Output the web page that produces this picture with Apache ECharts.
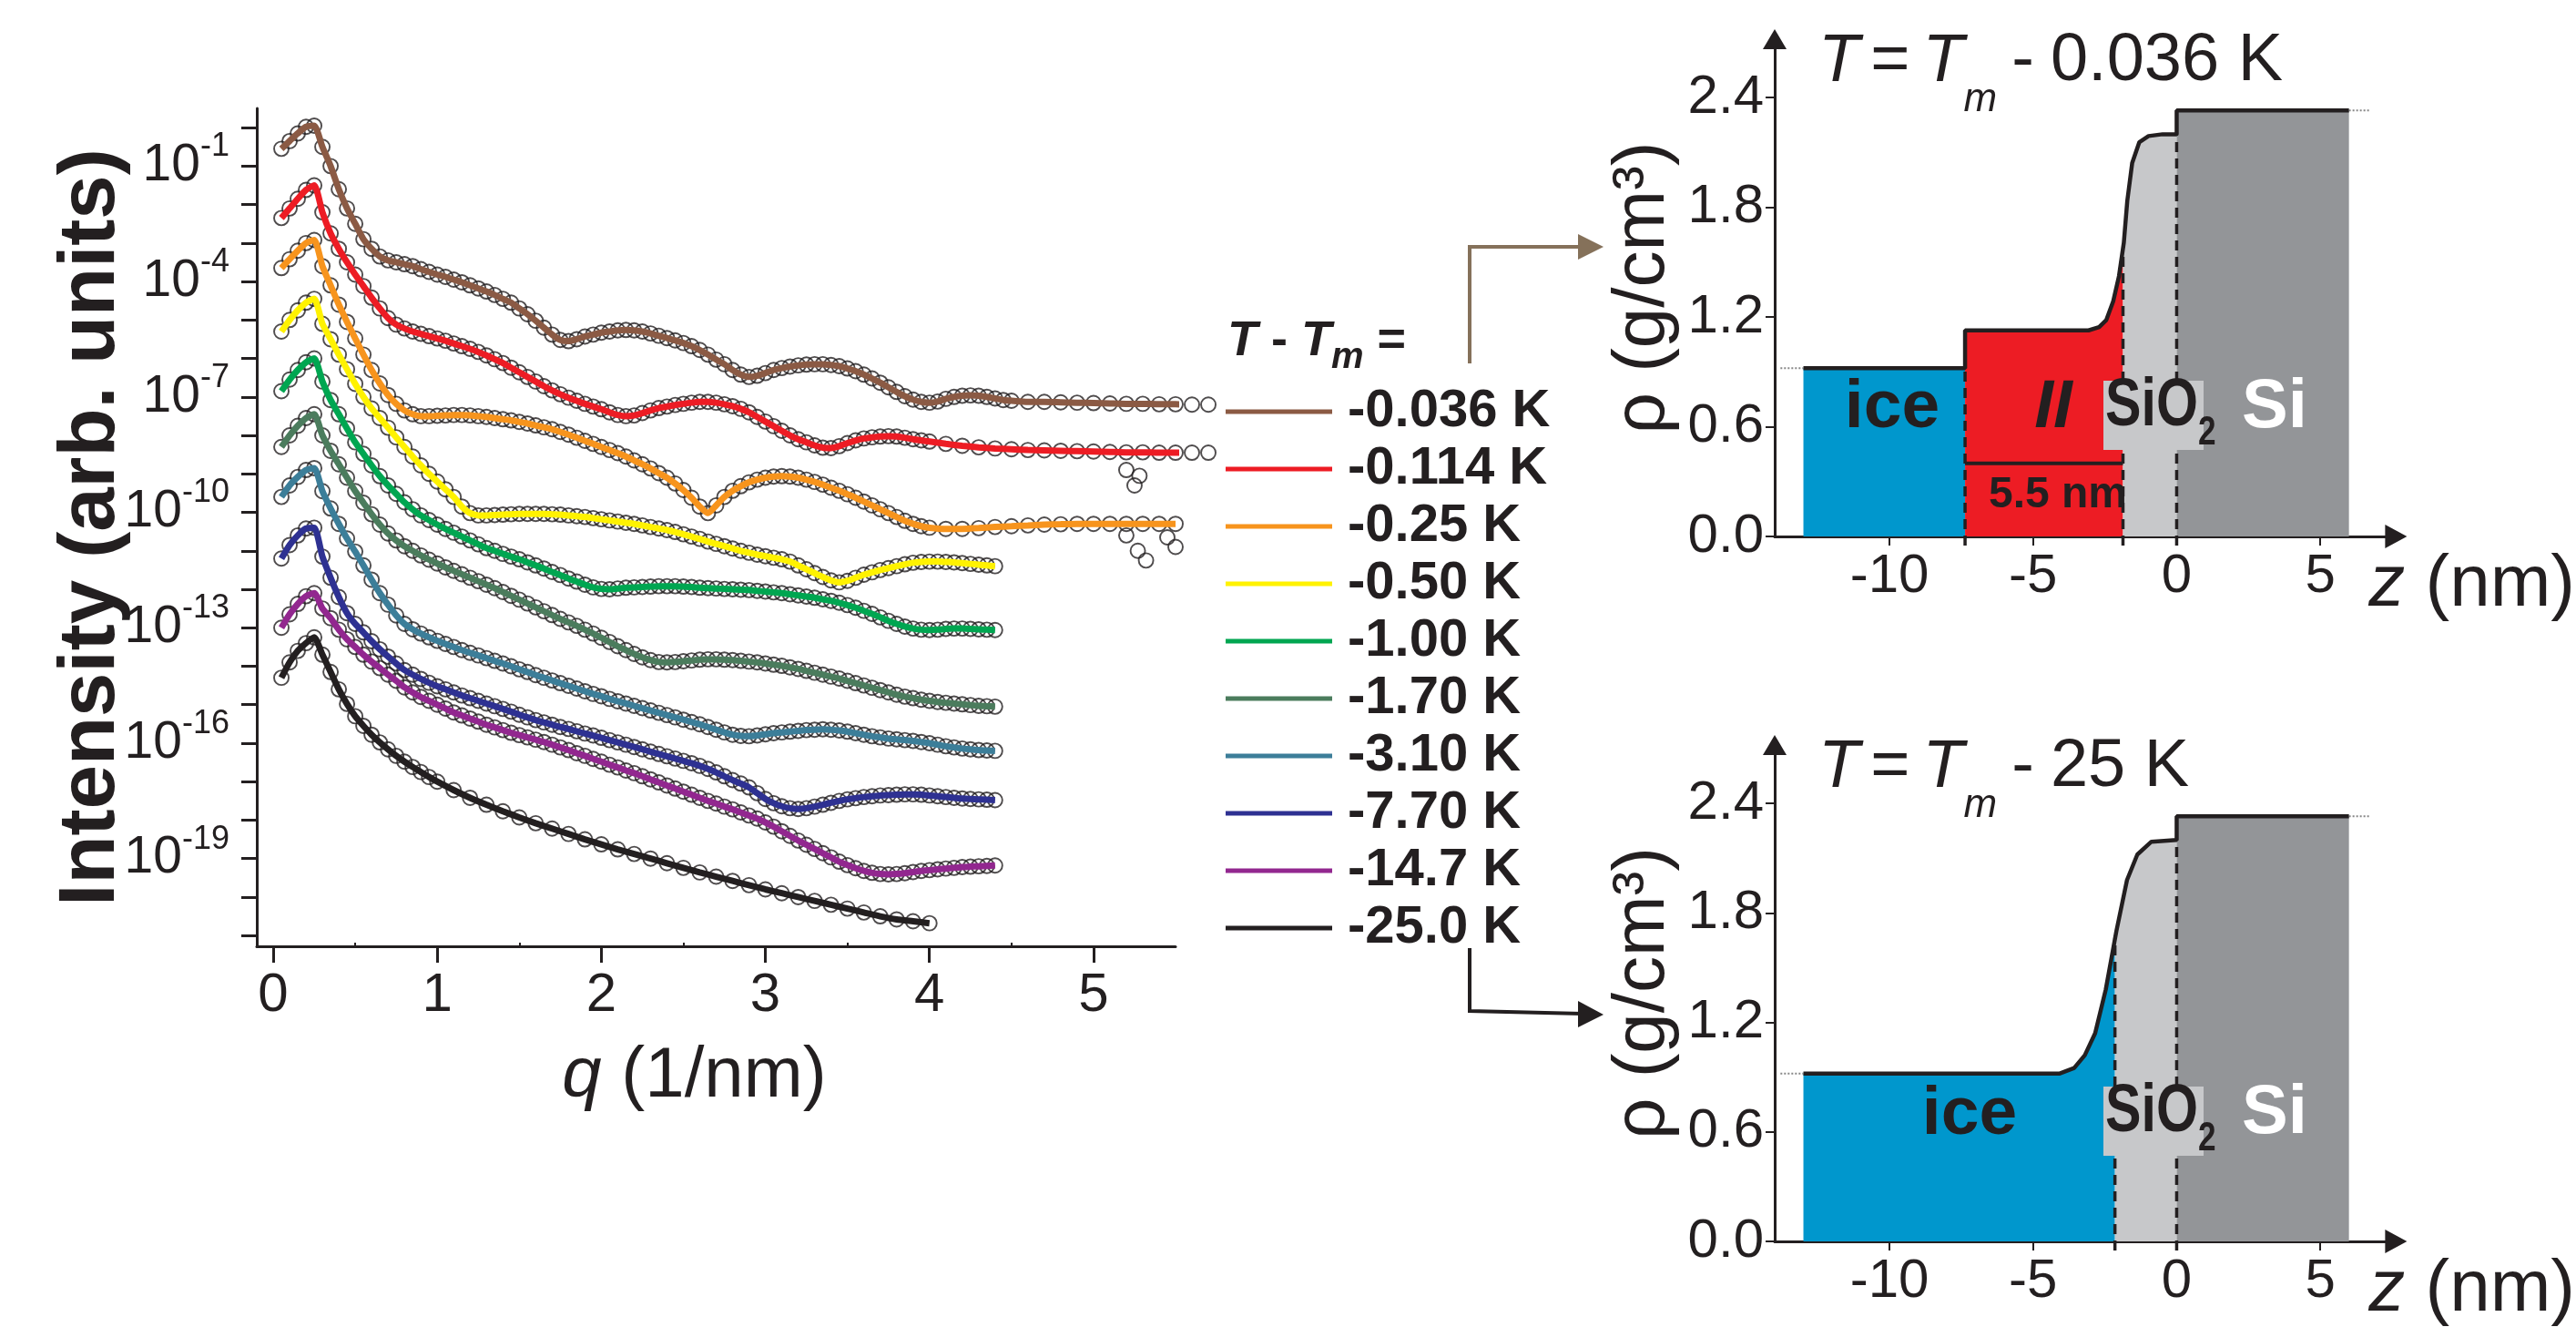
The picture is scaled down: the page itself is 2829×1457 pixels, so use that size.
<!DOCTYPE html>
<html><head><meta charset="utf-8">
<script src="https://cdn.jsdelivr.net/npm/echarts@6/dist/echarts.min.js"></script>
<style>html,body{margin:0;padding:0;background:#fff}#c{width:2829px;height:1457px}</style>
</head><body><div id="c"></div>
<script>
// ---------- data : log10(intensity) vs q (1/nm) ----------
const curveNames = ['-0.036 K','-0.114 K','-0.25 K','-0.50 K','-1.00 K','-1.70 K','-3.10 K','-7.70 K','-14.7 K','-25.0 K'];
const curveColors = ['#8b5a44','#ed1c24','#f7941d','#fff200','#00a651','#4b7c5d','#3c7e99','#2e3192','#92278f','#231f20'];
const d036 = [[0.05,-0.55],[0.1,-0.35],[0.15,-0.15],[0.2,0.02],[0.25,0.05],[0.3,-0.5],[0.35,-1.0],[0.4,-1.6],[0.45,-2.1],[0.5,-2.5],[0.55,-2.9],[0.6,-3.15],[0.65,-3.35],[0.7,-3.45],[0.75,-3.5],[0.8,-3.55],[0.85,-3.6],[0.9,-3.68],[0.95,-3.75],[1.0,-3.82],[1.05,-3.88],[1.1,-3.95],[1.15,-4.02],[1.2,-4.1],[1.25,-4.18],[1.3,-4.26],[1.35,-4.35],[1.4,-4.45],[1.45,-4.55],[1.5,-4.7],[1.55,-4.85],[1.6,-5.02],[1.65,-5.2],[1.7,-5.38],[1.75,-5.52],[1.8,-5.55],[1.85,-5.5],[1.9,-5.43],[1.95,-5.38],[2.0,-5.33],[2.05,-5.3],[2.1,-5.27],[2.15,-5.26],[2.2,-5.27],[2.25,-5.3],[2.3,-5.35],[2.35,-5.41],[2.4,-5.47],[2.45,-5.53],[2.5,-5.6],[2.55,-5.68],[2.6,-5.78],[2.65,-5.9],[2.7,-6.03],[2.75,-6.15],[2.8,-6.3],[2.85,-6.42],[2.9,-6.48],[2.95,-6.45],[3.0,-6.38],[3.05,-6.3],[3.1,-6.25],[3.15,-6.21],[3.2,-6.18],[3.25,-6.16],[3.3,-6.15],[3.35,-6.15],[3.4,-6.17],[3.45,-6.2],[3.5,-6.26],[3.55,-6.33],[3.6,-6.42],[3.65,-6.52],[3.7,-6.63],[3.75,-6.75],[3.8,-6.87],[3.85,-6.98],[3.9,-7.07],[3.95,-7.13],[4.0,-7.15],[4.05,-7.12],[4.1,-7.05],[4.15,-7.0],[4.2,-6.97],[4.25,-6.96],[4.3,-6.97],[4.35,-7.0],[4.4,-7.04],[4.45,-7.08],[4.5,-7.1],[4.6,-7.13],[4.7,-7.13],[4.8,-7.14],[4.9,-7.15],[5.0,-7.16],[5.1,-7.17],[5.2,-7.18],[5.3,-7.18],[5.4,-7.19],[5.5,-7.19],[5.6,-7.2],[5.7,-7.2]];
const d114 = [[0.05,-2.35],[0.1,-2.1],[0.15,-1.85],[0.2,-1.62],[0.25,-1.5],[0.3,-2.2],[0.35,-2.75],[0.4,-3.15],[0.45,-3.5],[0.5,-3.82],[0.55,-4.12],[0.6,-4.42],[0.65,-4.7],[0.7,-4.95],[0.75,-5.12],[0.8,-5.22],[0.85,-5.3],[0.9,-5.36],[0.95,-5.42],[1.0,-5.48],[1.05,-5.54],[1.1,-5.61],[1.15,-5.68],[1.2,-5.75],[1.25,-5.83],[1.3,-5.92],[1.35,-6.02],[1.4,-6.12],[1.45,-6.24],[1.5,-6.36],[1.55,-6.48],[1.6,-6.6],[1.65,-6.72],[1.7,-6.83],[1.75,-6.93],[1.8,-7.02],[1.85,-7.1],[1.9,-7.18],[1.95,-7.25],[2.0,-7.32],[2.05,-7.4],[2.1,-7.47],[2.15,-7.5],[2.2,-7.48],[2.25,-7.42],[2.3,-7.35],[2.35,-7.29],[2.4,-7.25],[2.45,-7.21],[2.5,-7.18],[2.55,-7.15],[2.6,-7.13],[2.65,-7.13],[2.7,-7.15],[2.75,-7.19],[2.8,-7.24],[2.85,-7.31],[2.9,-7.4],[2.95,-7.52],[3.0,-7.64],[3.05,-7.76],[3.1,-7.88],[3.15,-8.0],[3.2,-8.1],[3.25,-8.18],[3.3,-8.26],[3.35,-8.32],[3.4,-8.33],[3.45,-8.28],[3.5,-8.2],[3.55,-8.13],[3.6,-8.08],[3.65,-8.05],[3.7,-8.03],[3.75,-8.02],[3.8,-8.03],[3.85,-8.06],[3.9,-8.1],[3.95,-8.13],[4.0,-8.16],[4.1,-8.22],[4.2,-8.27],[4.3,-8.31],[4.4,-8.34],[4.5,-8.36],[4.6,-8.38],[4.7,-8.39],[4.8,-8.4],[4.9,-8.41],[5.0,-8.42],[5.1,-8.43],[5.2,-8.44],[5.3,-8.44],[5.4,-8.45],[5.5,-8.45],[5.6,-8.45],[5.7,-8.45]];
const d25 = [[0.05,-3.65],[0.1,-3.42],[0.15,-3.2],[0.2,-3.0],[0.25,-2.92],[0.3,-3.6],[0.35,-4.1],[0.4,-4.6],[0.45,-5.05],[0.5,-5.48],[0.55,-5.9],[0.6,-6.3],[0.65,-6.65],[0.7,-6.95],[0.75,-7.18],[0.8,-7.35],[0.85,-7.45],[0.9,-7.5],[0.95,-7.5],[1.0,-7.49],[1.05,-7.48],[1.1,-7.47],[1.15,-7.47],[1.2,-7.48],[1.25,-7.5],[1.3,-7.52],[1.35,-7.55],[1.4,-7.58],[1.45,-7.61],[1.5,-7.65],[1.55,-7.69],[1.6,-7.74],[1.65,-7.79],[1.7,-7.84],[1.75,-7.91],[1.8,-7.98],[1.85,-8.06],[1.9,-8.14],[1.95,-8.22],[2.0,-8.3],[2.05,-8.38],[2.1,-8.46],[2.15,-8.55],[2.2,-8.65],[2.25,-8.75],[2.3,-8.86],[2.35,-8.98],[2.4,-9.1],[2.45,-9.25],[2.5,-9.42],[2.55,-9.62],[2.6,-9.85],[2.65,-10.02],[2.7,-9.82],[2.75,-9.6],[2.8,-9.44],[2.85,-9.32],[2.9,-9.22],[2.95,-9.15],[3.0,-9.1],[3.05,-9.07],[3.1,-9.06],[3.15,-9.07],[3.2,-9.1],[3.25,-9.15],[3.3,-9.21],[3.35,-9.28],[3.4,-9.36],[3.45,-9.44],[3.5,-9.53],[3.55,-9.62],[3.6,-9.72],[3.65,-9.82],[3.7,-9.92],[3.75,-10.02],[3.8,-10.12],[3.85,-10.22],[3.9,-10.3],[3.95,-10.36],[4.0,-10.4],[4.1,-10.43],[4.2,-10.43],[4.3,-10.41],[4.4,-10.38],[4.5,-10.36],[4.6,-10.34],[4.7,-10.32],[4.8,-10.31],[4.9,-10.3],[5.0,-10.3],[5.1,-10.3],[5.2,-10.3],[5.3,-10.3],[5.4,-10.3],[5.5,-10.3]];
const d50 = [[0.05,-5.3],[0.1,-5.0],[0.15,-4.75],[0.2,-4.55],[0.25,-4.45],[0.3,-5.1],[0.35,-5.5],[0.4,-5.9],[0.45,-6.28],[0.5,-6.66],[0.55,-7.0],[0.6,-7.3],[0.65,-7.55],[0.7,-7.8],[0.75,-8.05],[0.8,-8.3],[0.85,-8.55],[0.9,-8.78],[0.95,-9.0],[1.0,-9.2],[1.05,-9.4],[1.1,-9.6],[1.15,-9.85],[1.2,-10.02],[1.25,-10.08],[1.3,-10.08],[1.35,-10.07],[1.4,-10.06],[1.45,-10.05],[1.5,-10.04],[1.55,-10.04],[1.6,-10.04],[1.65,-10.04],[1.7,-10.05],[1.75,-10.06],[1.8,-10.08],[1.85,-10.1],[1.9,-10.12],[1.95,-10.15],[2.0,-10.18],[2.05,-10.21],[2.1,-10.24],[2.15,-10.27],[2.2,-10.3],[2.25,-10.34],[2.3,-10.38],[2.35,-10.42],[2.4,-10.46],[2.45,-10.51],[2.5,-10.57],[2.55,-10.63],[2.6,-10.69],[2.65,-10.76],[2.7,-10.82],[2.75,-10.88],[2.8,-10.94],[2.85,-11.0],[2.9,-11.05],[2.95,-11.1],[3.0,-11.14],[3.05,-11.18],[3.1,-11.22],[3.15,-11.28],[3.2,-11.38],[3.25,-11.48],[3.3,-11.58],[3.35,-11.68],[3.4,-11.77],[3.45,-11.82],[3.5,-11.78],[3.55,-11.7],[3.6,-11.62],[3.65,-11.56],[3.7,-11.5],[3.75,-11.45],[3.8,-11.4],[3.85,-11.35],[3.9,-11.31],[3.95,-11.29],[4.0,-11.28],[4.05,-11.28],[4.1,-11.29],[4.15,-11.3],[4.2,-11.32],[4.25,-11.34],[4.3,-11.36],[4.35,-11.38],[4.4,-11.4]];
const d100 = [[0.05,-6.85],[0.1,-6.55],[0.15,-6.3],[0.2,-6.1],[0.25,-6.0],[0.3,-6.6],[0.35,-7.08],[0.4,-7.45],[0.45,-7.82],[0.5,-8.18],[0.55,-8.48],[0.6,-8.78],[0.65,-9.06],[0.7,-9.3],[0.75,-9.52],[0.8,-9.74],[0.85,-9.92],[0.9,-10.08],[0.95,-10.2],[1.0,-10.32],[1.05,-10.43],[1.1,-10.53],[1.15,-10.63],[1.2,-10.73],[1.25,-10.83],[1.3,-10.93],[1.35,-11.0],[1.4,-11.08],[1.45,-11.15],[1.5,-11.22],[1.55,-11.3],[1.6,-11.38],[1.65,-11.46],[1.7,-11.55],[1.75,-11.63],[1.8,-11.72],[1.85,-11.8],[1.9,-11.88],[1.95,-11.95],[2.0,-11.99],[2.05,-12.0],[2.1,-11.98],[2.15,-11.96],[2.2,-11.95],[2.25,-11.94],[2.3,-11.93],[2.35,-11.92],[2.4,-11.92],[2.45,-11.92],[2.5,-11.93],[2.55,-11.94],[2.6,-11.96],[2.65,-11.97],[2.7,-11.98],[2.75,-11.99],[2.8,-12.0],[2.85,-12.01],[2.9,-12.02],[2.95,-12.04],[3.0,-12.06],[3.05,-12.08],[3.1,-12.1],[3.15,-12.13],[3.2,-12.16],[3.25,-12.19],[3.3,-12.22],[3.35,-12.26],[3.4,-12.3],[3.45,-12.35],[3.5,-12.41],[3.55,-12.48],[3.6,-12.56],[3.65,-12.64],[3.7,-12.73],[3.75,-12.82],[3.8,-12.9],[3.85,-12.97],[3.9,-13.02],[3.95,-13.05],[4.0,-13.06],[4.05,-13.05],[4.1,-13.03],[4.15,-13.02],[4.2,-13.02],[4.25,-13.03],[4.3,-13.04],[4.35,-13.05],[4.4,-13.06]];
const d170 = [[0.05,-8.3],[0.1,-8.0],[0.15,-7.75],[0.2,-7.55],[0.25,-7.45],[0.3,-8.0],[0.35,-8.4],[0.4,-8.75],[0.45,-9.1],[0.5,-9.45],[0.55,-9.75],[0.6,-10.05],[0.65,-10.32],[0.7,-10.55],[0.75,-10.73],[0.8,-10.88],[0.85,-11.0],[0.9,-11.12],[0.95,-11.23],[1.0,-11.33],[1.05,-11.43],[1.1,-11.52],[1.15,-11.61],[1.2,-11.7],[1.25,-11.79],[1.3,-11.88],[1.35,-11.97],[1.4,-12.07],[1.45,-12.17],[1.5,-12.27],[1.55,-12.37],[1.6,-12.47],[1.65,-12.57],[1.7,-12.67],[1.75,-12.77],[1.8,-12.86],[1.85,-12.95],[1.9,-13.05],[1.95,-13.15],[2.0,-13.26],[2.05,-13.37],[2.1,-13.48],[2.15,-13.58],[2.2,-13.68],[2.25,-13.77],[2.3,-13.84],[2.35,-13.89],[2.4,-13.9],[2.45,-13.89],[2.5,-13.87],[2.55,-13.85],[2.6,-13.83],[2.65,-13.82],[2.7,-13.82],[2.75,-13.83],[2.8,-13.84],[2.85,-13.86],[2.9,-13.88],[2.95,-13.9],[3.0,-13.93],[3.05,-13.96],[3.1,-13.99],[3.15,-14.03],[3.2,-14.07],[3.25,-14.12],[3.3,-14.17],[3.35,-14.22],[3.4,-14.27],[3.45,-14.32],[3.5,-14.38],[3.55,-14.44],[3.6,-14.5],[3.65,-14.56],[3.7,-14.62],[3.75,-14.68],[3.8,-14.74],[3.85,-14.79],[3.9,-14.83],[3.95,-14.87],[4.0,-14.9],[4.05,-14.93],[4.1,-14.95],[4.15,-14.97],[4.2,-14.99],[4.25,-15.01],[4.3,-15.03],[4.35,-15.04],[4.4,-15.05]];
const d310 = [[0.05,-9.6],[0.1,-9.3],[0.15,-9.08],[0.2,-8.9],[0.25,-8.85],[0.3,-9.45],[0.35,-9.9],[0.4,-10.3],[0.45,-10.68],[0.5,-11.02],[0.55,-11.38],[0.6,-11.75],[0.65,-12.1],[0.7,-12.4],[0.75,-12.68],[0.8,-12.9],[0.85,-13.04],[0.9,-13.15],[0.95,-13.25],[1.0,-13.34],[1.05,-13.42],[1.1,-13.5],[1.15,-13.58],[1.2,-13.65],[1.25,-13.72],[1.3,-13.79],[1.35,-13.86],[1.4,-13.93],[1.45,-14.0],[1.5,-14.08],[1.55,-14.15],[1.6,-14.23],[1.65,-14.3],[1.7,-14.37],[1.75,-14.44],[1.8,-14.51],[1.85,-14.58],[1.9,-14.65],[1.95,-14.72],[2.0,-14.78],[2.05,-14.85],[2.1,-14.91],[2.15,-14.97],[2.2,-15.03],[2.25,-15.09],[2.3,-15.15],[2.35,-15.21],[2.4,-15.27],[2.45,-15.33],[2.5,-15.39],[2.55,-15.45],[2.6,-15.51],[2.65,-15.58],[2.7,-15.65],[2.75,-15.72],[2.8,-15.78],[2.85,-15.81],[2.9,-15.82],[2.95,-15.8],[3.0,-15.77],[3.05,-15.74],[3.1,-15.72],[3.15,-15.7],[3.2,-15.68],[3.25,-15.66],[3.3,-15.65],[3.35,-15.64],[3.4,-15.65],[3.45,-15.67],[3.5,-15.7],[3.55,-15.74],[3.6,-15.78],[3.65,-15.82],[3.7,-15.85],[3.75,-15.88],[3.8,-15.9],[3.85,-15.92],[3.9,-15.94],[3.95,-15.97],[4.0,-16.0],[4.05,-16.04],[4.1,-16.08],[4.15,-16.11],[4.2,-16.14],[4.25,-16.16],[4.3,-16.18],[4.35,-16.19],[4.4,-16.2]];
const d770 = [[0.05,-11.2],[0.1,-10.85],[0.15,-10.6],[0.2,-10.42],[0.25,-10.4],[0.3,-11.15],[0.35,-11.7],[0.4,-12.2],[0.45,-12.62],[0.5,-12.9],[0.55,-13.12],[0.6,-13.35],[0.65,-13.56],[0.7,-13.75],[0.75,-13.93],[0.8,-14.1],[0.85,-14.22],[0.9,-14.33],[0.95,-14.43],[1.0,-14.52],[1.05,-14.6],[1.1,-14.68],[1.15,-14.76],[1.2,-14.83],[1.25,-14.9],[1.3,-14.97],[1.35,-15.04],[1.4,-15.11],[1.45,-15.18],[1.5,-15.26],[1.55,-15.33],[1.6,-15.4],[1.65,-15.46],[1.7,-15.52],[1.75,-15.58],[1.8,-15.63],[1.85,-15.69],[1.9,-15.75],[1.95,-15.8],[2.0,-15.86],[2.05,-15.92],[2.1,-15.98],[2.15,-16.04],[2.2,-16.1],[2.25,-16.16],[2.3,-16.22],[2.35,-16.28],[2.4,-16.34],[2.45,-16.4],[2.5,-16.46],[2.55,-16.52],[2.6,-16.59],[2.65,-16.67],[2.7,-16.76],[2.75,-16.86],[2.8,-16.96],[2.85,-17.05],[2.9,-17.15],[2.95,-17.3],[3.0,-17.45],[3.05,-17.56],[3.1,-17.64],[3.15,-17.69],[3.2,-17.71],[3.25,-17.69],[3.3,-17.65],[3.35,-17.6],[3.4,-17.55],[3.45,-17.5],[3.5,-17.46],[3.55,-17.43],[3.6,-17.4],[3.65,-17.38],[3.7,-17.36],[3.75,-17.35],[3.8,-17.34],[3.85,-17.33],[3.9,-17.33],[3.95,-17.34],[4.0,-17.36],[4.05,-17.38],[4.1,-17.4],[4.15,-17.42],[4.2,-17.44],[4.25,-17.45],[4.3,-17.46],[4.35,-17.47],[4.4,-17.48]];
const d1470 = [[0.05,-13.0],[0.1,-12.65],[0.15,-12.38],[0.2,-12.18],[0.25,-12.1],[0.3,-12.5],[0.35,-12.75],[0.4,-13.05],[0.45,-13.3],[0.5,-13.5],[0.55,-13.7],[0.6,-13.88],[0.65,-14.05],[0.7,-14.22],[0.75,-14.38],[0.8,-14.55],[0.85,-14.68],[0.9,-14.8],[0.95,-14.9],[1.0,-15.0],[1.05,-15.1],[1.1,-15.2],[1.15,-15.28],[1.2,-15.36],[1.25,-15.44],[1.3,-15.52],[1.35,-15.59],[1.4,-15.66],[1.45,-15.73],[1.5,-15.79],[1.55,-15.85],[1.6,-15.91],[1.65,-15.97],[1.7,-16.04],[1.75,-16.11],[1.8,-16.18],[1.85,-16.26],[1.9,-16.33],[1.95,-16.41],[2.0,-16.48],[2.05,-16.56],[2.1,-16.63],[2.15,-16.71],[2.2,-16.78],[2.25,-16.86],[2.3,-16.94],[2.35,-17.02],[2.4,-17.1],[2.45,-17.18],[2.5,-17.26],[2.55,-17.34],[2.6,-17.42],[2.65,-17.5],[2.7,-17.57],[2.75,-17.65],[2.8,-17.72],[2.85,-17.8],[2.9,-17.88],[2.95,-17.96],[3.0,-18.06],[3.05,-18.17],[3.1,-18.29],[3.15,-18.41],[3.2,-18.53],[3.25,-18.64],[3.3,-18.75],[3.35,-18.86],[3.4,-18.97],[3.45,-19.08],[3.5,-19.17],[3.55,-19.25],[3.6,-19.32],[3.65,-19.37],[3.7,-19.4],[3.75,-19.41],[3.8,-19.4],[3.85,-19.38],[3.9,-19.35],[3.95,-19.32],[4.0,-19.3],[4.05,-19.28],[4.1,-19.26],[4.15,-19.24],[4.2,-19.22],[4.25,-19.21],[4.3,-19.2],[4.35,-19.19],[4.4,-19.18]];
const d2500 = [[0.05,-14.3],[0.1,-13.9],[0.15,-13.6],[0.2,-13.4],[0.25,-13.25],[0.3,-13.7],[0.35,-14.15],[0.4,-14.6],[0.45,-14.98],[0.5,-15.3],[0.55,-15.55],[0.6,-15.78],[0.65,-15.98],[0.7,-16.16],[0.75,-16.33],[0.8,-16.48],[0.85,-16.62],[0.9,-16.75],[0.95,-16.88],[1.0,-17.0],[1.1,-17.22],[1.2,-17.42],[1.3,-17.6],[1.4,-17.77],[1.5,-17.93],[1.6,-18.08],[1.7,-18.22],[1.8,-18.36],[1.9,-18.5],[2.0,-18.63],[2.1,-18.76],[2.2,-18.88],[2.3,-19.0],[2.4,-19.12],[2.5,-19.24],[2.6,-19.36],[2.7,-19.47],[2.8,-19.58],[2.9,-19.69],[3.0,-19.8],[3.1,-19.9],[3.2,-20.0],[3.3,-20.1],[3.4,-20.2],[3.5,-20.3],[3.6,-20.4],[3.7,-20.5],[3.8,-20.58],[3.9,-20.63],[4.0,-20.68]];
const outliers114 = [[5.2,-8.9],[5.25,-9.3],[5.28,-9.05]];
const outliers25 = [[5.2,-10.6],[5.27,-11.0],[5.32,-11.25],[5.45,-10.65],[5.5,-10.9]];
const curves = [d036,d114,d25,d50,d100,d170,d310,d770,d1470,d2500];

const qTicks = [0,1,2,3,4,5];
const qMinorTicks = [0.5,1.5,2.5,3.5,4.5];
const logTicks = [-21,-20,-19,-18,-17,-16,-15,-14,-13,-12,-11,-10,-9,-8,-7,-6,-5,-4,-3,-2,-1,0];
const logLabels = [-19,-16,-13,-10,-7,-4,-1];

// ---------- density profiles rho (g/cm3) vs z (nm) ----------
const zTicks = [-10,-5,0,5];
const rhoTicks = [0,0.6,1.2,1.8,2.4];
// T = Tm - 0.036 K
const topIce = [[-13,0.92],[-7.37,0.92]];
const topLiquid = [[-7.37,1.127],[-3.07,1.127],[-2.70,1.145],[-2.45,1.184],[-2.21,1.287],[-2.01,1.424],[-1.87,1.56]];
const topOxide = [[-1.87,1.56],[-1.84,1.607],[-1.72,1.836],[-1.55,2.042],[-1.30,2.157],[-0.98,2.19],[-0.49,2.2],[0,2.2]];
const topSi = [[0,2.33],[6,2.33]];
const topProfile = [[-13,0.92],[-7.37,0.92],[-7.37,1.127],[-3.07,1.127],[-2.70,1.145],[-2.45,1.184],[-2.21,1.287],[-2.01,1.424],[-1.84,1.607],[-1.72,1.836],[-1.55,2.042],[-1.30,2.157],[-0.98,2.19],[-0.49,2.2],[0,2.2],[0,2.33],[6,2.33]];
const topDashes = [[-7.37,1.127],[-1.87,1.56],[0,2.2]];
const topBar = [[-7.37,0.40],[-1.87,0.40]];
// T = Tm - 25 K
const botIce = [[-13,0.92],[-4.07,0.92],[-3.57,0.95],[-3.2,1.02],[-2.84,1.14],[-2.47,1.38],[-2.15,1.66]];
const botOxide = [[-2.15,1.66],[-2.1,1.70],[-1.73,1.98],[-1.37,2.12],[-0.88,2.19],[0,2.2]];
const botSi = [[0,2.33],[6,2.33]];
const botProfile = [[-13,0.92],[-4.07,0.92],[-3.57,0.95],[-3.2,1.02],[-2.84,1.14],[-2.47,1.38],[-2.1,1.70],[-1.73,1.98],[-1.37,2.12],[-0.88,2.19],[0,2.2],[0,2.33],[6,2.33]];
const botDashes = [[-2.15,1.66],[0,2.2]];

// ---------- chart ----------
const FONT = "'Liberation Sans', Arial, Helvetica, sans-serif";
const INK = '#231f20';
const chart = echarts.init(document.getElementById('c'), null, {renderer:'canvas'});

const series = [];
const circleStyle = {color:'rgba(255,255,255,0)', borderColor:INK, borderWidth:1.9};
[...curves, outliers114, outliers25].forEach((d) => series.push({type:'scatter', xAxisIndex:0, yAxisIndex:0, data:d, symbol:'circle', symbolSize:16,
  itemStyle:circleStyle, z:2, clip:false, silent:true}));
curves.forEach((d,i) => series.push({type:'line', name:curveNames[i], xAxisIndex:0, yAxisIndex:0, data:d, smooth:0.2,
  showSymbol:false, symbol:'none', lineStyle:{width:7, color:curveColors[i]}, itemStyle:{color:curveColors[i]}, z:3, clip:false, silent:true}));

function area(xi, yi, data, color) {
  series.push({type:'line', xAxisIndex:xi, yAxisIndex:yi, data, symbol:'none', smooth:false,
    lineStyle:{width:0, color}, areaStyle:{color, opacity:1}, z:1, silent:true});
}
function profile(xi, yi, data) {
  series.push({type:'line', xAxisIndex:xi, yAxisIndex:yi, data, symbol:'none', smooth:false,
    lineStyle:{width:4.5, color:INK}, z:4, silent:true});
}
function dashes(xi, yi, tops) {
  tops.forEach(p => series.push({type:'line', xAxisIndex:xi, yAxisIndex:yi, data:[[p[0],-0.05],[p[0],p[1]]], symbol:'none',
    lineStyle:{width:3.5, color:INK, type:[11,7]}, z:5, clip:false, silent:true}));
}
function dots(xi, yi) {
  series.push({type:'line', xAxisIndex:xi, yAxisIndex:yi, data:[[-13.8,0.92],[-13,0.92]], symbol:'none',
    lineStyle:{width:2, color:'#888', type:'dotted'}, z:1, clip:false, silent:true});
  series.push({type:'line', xAxisIndex:xi, yAxisIndex:yi, data:[[6,2.33],[6.7,2.33]], symbol:'none',
    lineStyle:{width:2, color:'#888', type:'dotted'}, z:1, clip:false, silent:true});
}
area(2,1,topIce,'#0097cd'); area(2,1,topLiquid,'#ed1c24'); area(2,1,topOxide,'#c7c8ca'); area(2,1,topSi,'#939598');
profile(2,1,topProfile); dashes(2,1,topDashes); dots(2,1);
series.push({type:'line', xAxisIndex:2, yAxisIndex:1, data:topBar, symbol:'none', lineStyle:{width:4,color:INK}, z:5, silent:true});
area(3,2,botIce,'#0097cd'); area(3,2,botOxide,'#c7c8ca'); area(3,2,botSi,'#939598');
profile(3,2,botProfile); dashes(3,2,botDashes); dots(3,2);

const tickLabel = {fontSize:60, color:INK, fontFamily:FONT};
function zAxis(gi) {
  return {type:'value', gridIndex:gi, min:-14, max:7.64,
    axisLine:{show:true, onZero:false, lineStyle:{color:INK, width:3}, symbol:['none','triangle'], symbolSize:[26,24]},
    axisTick:{show:true, customValues:zTicks, length:10, lineStyle:{color:INK, width:2}},
    axisLabel:{customValues:zTicks, margin:14, ...tickLabel, formatter:v=>String(Math.round(v))},
    splitLine:{show:false},
    name:'{i|z} (nm)', nameLocation:'end', nameGap:-30, nameMoveOverlap:false,
    nameTextStyle:{fontSize:80, color:INK, fontFamily:FONT, align:'left', verticalAlign:'top', padding:[14,0,0,0],
      rich:{i:{fontSize:80, fontStyle:'italic', color:INK, fontFamily:FONT}}}};
}
function rhoAxis(gi) {
  return {type:'value', gridIndex:gi, min:0, max:2.72,
    axisLine:{show:true, onZero:false, lineStyle:{color:INK, width:3}, symbol:['none','triangle'], symbolSize:[26,22]},
    axisTick:{show:true, customValues:rhoTicks, length:10, lineStyle:{color:INK, width:2}},
    axisLabel:{customValues:rhoTicks, margin:12, ...tickLabel, formatter:v=>v.toFixed(1)},
    splitLine:{show:false},
    name:'\u03c1 (g/cm\u00b3)', nameLocation:'middle', nameRotate:90, nameGap:104, nameMoveOverlap:false,
    nameTextStyle:{fontSize:80, color:INK, fontFamily:FONT}};
}
function title(y, tail) {
  return {type:'text', x:1997, y, z:100, style:{text:'{i|T}{e|=}{i|T}{sub|m}{d|-}{r|' + tail + '}', fill:INK, verticalAlign:'middle', fontSize:74, fontFamily:FONT,
    rich:{i:{fontSize:74, fontStyle:'italic', fontFamily:FONT, fill:INK},
          e:{fontSize:74, fontFamily:FONT, fill:INK, padding:[0,14,0,12]},
          r:{fontSize:74, fontFamily:FONT, fill:INK},
          d:{fontSize:74, fontFamily:FONT, fill:INK, padding:[0,18,0,16]},
          sub:{fontSize:44, fontStyle:'italic', fontFamily:FONT, fill:INK, padding:[84,0,0,0]}}}};
}

const option = {
  animation:false,
  backgroundColor:'#ffffff',
  grid:[
    {left:282, top:119, width:1009, height:920},
    {left:1949, top:43, width:691, height:546},
    {left:1949, top:818, width:691, height:546}
  ],
  xAxis:[
    {type:'value', gridIndex:0, min:-0.1, max:5.5,
      axisLine:{show:true, onZero:false, lineStyle:{color:INK, width:3}},
      axisTick:{show:true, customValues:qTicks, length:18, lineStyle:{color:INK, width:3}},
      axisLabel:{customValues:qTicks, margin:24, ...tickLabel, formatter:v=>String(Math.round(v))},
      splitLine:{show:false},
      name:'{i|q} (1/nm)', nameLocation:'middle', nameGap:104, nameMoveOverlap:false,
      nameTextStyle:{fontSize:78, color:INK, fontFamily:FONT, padding:[0,48,0,0],
        rich:{i:{fontSize:78, fontStyle:'italic', color:INK, fontFamily:FONT}}}},
    {type:'value', gridIndex:0, min:-0.1, max:5.5, position:'bottom',
      axisLine:{show:false, onZero:false}, axisTick:{show:true, inside:true, customValues:qMinorTicks, length:4, lineStyle:{color:INK, width:2}},
      axisLabel:{show:false}, splitLine:{show:false}},
    zAxis(1), zAxis(2)
  ],
  yAxis:[
    {type:'value', gridIndex:0, min:-21.28, max:0.5,
      axisLine:{show:true, onZero:false, lineStyle:{color:INK, width:3}},
      axisTick:{show:true, customValues:logTicks, length:17, lineStyle:{color:INK, width:3}},
      axisLabel:{customValues:logLabels, margin:30, color:INK, fontFamily:FONT,
        formatter:v=>'{b|10}{s|' + Math.round(v) + '}',
        rich:{b:{fontSize:57, color:INK, fontFamily:FONT}, s:{fontSize:36, color:INK, fontFamily:FONT, padding:[0,0,42,0]}}},
      splitLine:{show:false},
      name:'Intensity (arb. units)', nameLocation:'middle', nameRotate:90, nameGap:137, nameMoveOverlap:false,
      nameTextStyle:{fontSize:87, fontWeight:'bold', color:INK, fontFamily:FONT}},
    rhoAxis(1), rhoAxis(2)
  ],
  legend:{data:curveNames, orient:'vertical', left:1341, top:418, itemWidth:117, itemHeight:5, itemGap:5, icon:'rect',
    selectedMode:false,
    textStyle:{fontSize:58, fontWeight:'bold', color:INK, fontFamily:FONT, lineHeight:58, padding:[0,0,0,12]}},
  graphic:[
    {type:'text', left:1348, top:348, z:100, style:{text:'{bi|T}{b| - }{bi|T}{sub|m}{b| =}', fill:INK,
      rich:{bi:{fontSize:54, fontWeight:'bold', fontStyle:'italic', fontFamily:FONT, fill:INK},
            b:{fontSize:54, fontWeight:'bold', fontFamily:FONT, fill:INK},
            sub:{fontSize:40, fontWeight:'bold', fontStyle:'italic', fontFamily:FONT, fill:INK, padding:[36,0,0,0]}}}},
    title(68, '0.036 K'),
    title(843, '25 K'),
    {type:'text', x:2078, y:448, z:100, style:{text:'ice', fontSize:75, fontWeight:'bold', fontFamily:FONT, fill:INK, align:'center', verticalAlign:'middle'}},
    {type:'text', x:2255, y:448, z:100, style:{text:'II', fontSize:75, fontWeight:'bold', fontStyle:'italic', fontFamily:FONT, fill:INK, align:'center', verticalAlign:'middle'}},
    {type:'rect', z:100, shape:{x:2310, y:418, width:110, height:76}, style:{fill:'#c7c8ca'}},
    {type:'text', x:2312, y:447, z:101, scaleX:0.8, originX:0, originY:0, style:{text:'SiO{s|2}', fontSize:74, fontWeight:'bold', fontFamily:FONT, fill:INK, verticalAlign:'middle',
      rich:{s:{fontSize:44, fontWeight:'bold', fontFamily:FONT, fill:INK, padding:[58,0,0,0]}}}},
    {type:'text', x:2498, y:448, z:100, style:{text:'Si', fontSize:76, fontWeight:'bold', fontFamily:FONT, fill:'#ffffff', align:'center', verticalAlign:'middle'}},
    {type:'text', x:2260, y:544, z:100, style:{text:'5.5 nm', fontSize:48, fontWeight:'bold', fontFamily:FONT, fill:INK, align:'center', verticalAlign:'middle'}},
    {type:'text', x:2163, y:1224, z:100, style:{text:'ice', fontSize:75, fontWeight:'bold', fontFamily:FONT, fill:INK, align:'center', verticalAlign:'middle'}},
    {type:'rect', z:100, shape:{x:2310, y:1193, width:110, height:76}, style:{fill:'#c7c8ca'}},
    {type:'text', x:2312, y:1222, z:101, scaleX:0.8, originX:0, originY:0, style:{text:'SiO{s|2}', fontSize:74, fontWeight:'bold', fontFamily:FONT, fill:INK, verticalAlign:'middle',
      rich:{s:{fontSize:44, fontWeight:'bold', fontFamily:FONT, fill:INK, padding:[58,0,0,0]}}}},
    {type:'text', x:2498, y:1223, z:100, style:{text:'Si', fontSize:76, fontWeight:'bold', fontFamily:FONT, fill:'#ffffff', align:'center', verticalAlign:'middle'}},
    {type:'polyline', z:100, shape:{points:[[1614,399],[1614,271],[1738,271]]}, style:{stroke:'#85715a', lineWidth:4, fill:null}},
    {type:'polygon', z:100, shape:{points:[[1733,257],[1761,271],[1733,285]]}, style:{fill:'#85715a'}},
    {type:'polyline', z:100, shape:{points:[[1614,1041],[1614,1110],[1738,1113]]}, style:{stroke:INK, lineWidth:4, fill:null}},
    {type:'polygon', z:100, shape:{points:[[1733,1099],[1761,1114],[1733,1128]]}, style:{fill:INK}}
  ],
  series
};
chart.setOption(option);
</script></body></html>
